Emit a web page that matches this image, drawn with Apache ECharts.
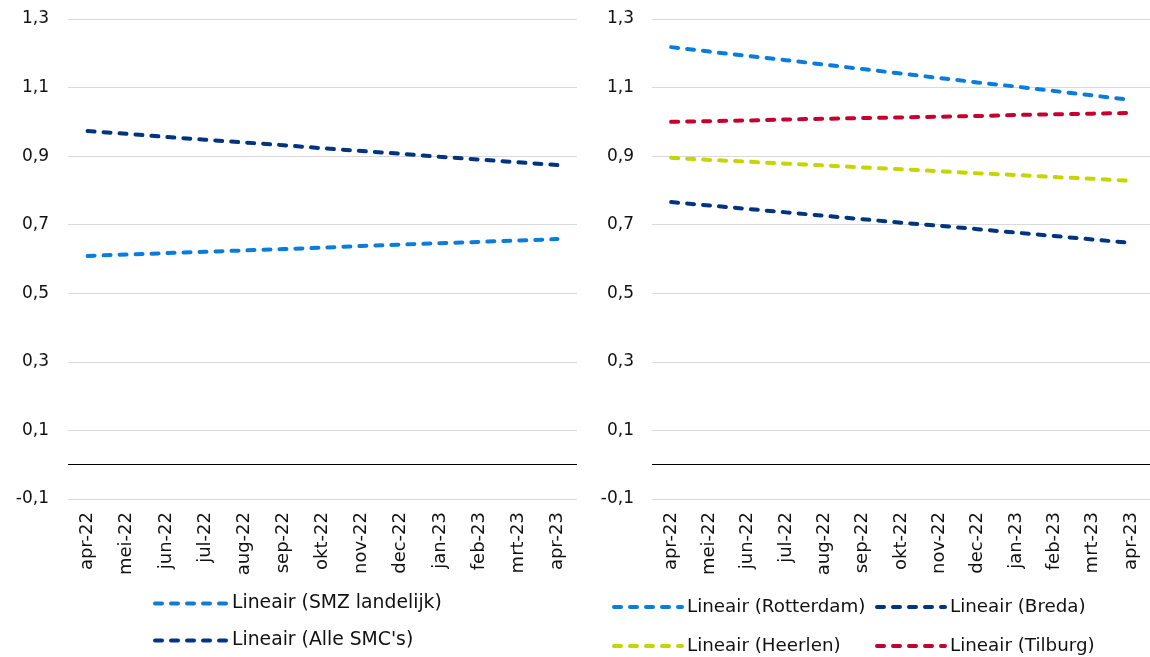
<!DOCTYPE html>
<html>
<head>
<meta charset="utf-8">
<script src="https://cdn.jsdelivr.net/npm/echarts@6/dist/echarts.min.js"></script>
<style>html,body{margin:0;padding:0;background:#fff}#c{width:1150px;height:657px}</style>
</head>
<body>
<div id="c"></div>
<script>
var categories = ['apr-22','mei-22','jun-22','jul-22','aug-22','sep-22','okt-22','nov-22','dec-22','jan-23','feb-23','mrt-23','apr-23'];
var yTicks = [-0.1, 0.1, 0.3, 0.5, 0.7, 0.9, 1.1, 1.3];
var smzLandelijk = [0.609,0.613,0.617,0.621,0.625,0.629,0.633,0.638,0.642,0.646,0.650,0.654,0.658];
var alleSMCs = [0.973,0.965,0.956,0.948,0.940,0.932,0.923,0.915,0.907,0.898,0.890,0.882,0.874];
var rotterdam = [1.218,1.205,1.192,1.180,1.167,1.154,1.141,1.128,1.115,1.103,1.090,1.077,1.064];
var breda = [0.766,0.756,0.746,0.736,0.726,0.716,0.706,0.697,0.687,0.677,0.667,0.657,0.647];
var heerlen = [0.895,0.889,0.884,0.878,0.873,0.867,0.862,0.856,0.850,0.845,0.839,0.834,0.828];
var tilburg = [1.000,1.002,1.004,1.007,1.009,1.011,1.013,1.015,1.017,1.020,1.022,1.024,1.026];

var FONT = '"DejaVu Sans", Verdana, sans-serif';
var TXT = '#111';
var C = {light:'#0A7DDA', navy:'#00347F', lime:'#C6D500', red:'#C4002F'};

function xAx(gi){
  return {type:'category', gridIndex:gi, data:categories, boundaryGap:true,
    axisLine:{show:false, onZero:false}, axisTick:{show:false},
    axisLabel:{rotate:90, margin:13, color:TXT, fontFamily:FONT, fontSize:18, interval:0}};
}
function yAx(gi, margin){
  return {type:'value', gridIndex:gi, min:yTicks[0], max:yTicks[yTicks.length-1], interval:0.2,
    axisLine:{show:false}, axisTick:{show:false},
    splitLine:{lineStyle:{color:'#D9D9D9', width:1}},
    axisLabel:{margin:margin, color:TXT, fontFamily:FONT, fontSize:17, padding:[3,0,0,0],
      formatter:function(v){return v.toFixed(1).replace('.',',');}}};
}
function ser(name, data, color, gi, zero){
  var s = {name:name, type:'line', xAxisIndex:gi, yAxisIndex:gi, data:data, symbol:'none', smooth:false,
    lineStyle:{color:color, width:4, type:[7,9], cap:'round'}, itemStyle:{color:color}, z:3};
  if (zero) s.markLine = {silent:true, symbol:'none', label:{show:false},
    lineStyle:{color:'#000', width:1, type:'solid'}, data:[{yAxis:0}], z:1};
  return s;
}
var legendCommon = {orient:'vertical', itemWidth:72, itemHeight:12, itemGap:18, padding:0,
  itemStyle:{opacity:0},
  lineStyle:{width:4, type:[7,9], cap:'round'},
  textStyle:{color:TXT, fontFamily:FONT, fontSize:18.8}};
var legendRight = {itemWidth:68, itemGap:21, textStyle:{color:TXT, fontFamily:FONT, fontSize:18.3}};

var chart = echarts.init(document.getElementById('c'), null, {renderer:'canvas'});
chart.setOption({
  backgroundColor:'#fff',
  animation:false,
  grid:[
    {left:68, right:573, top:19, bottom:158},
    {left:652, right:-13, top:19, bottom:158}
  ],
  xAxis:[xAx(0), xAx(1)],
  yAxis:[yAx(0,19), yAx(1,18)],
  legend:[
    Object.assign({}, legendCommon, {left:153, top:594, data:['Lineair (SMZ landelijk)','Lineair (Alle SMC\'s)']}),
    Object.assign({}, legendCommon, legendRight, {left:612, top:598, data:['Lineair (Rotterdam)','Lineair (Heerlen)']}),
    Object.assign({}, legendCommon, legendRight, {left:875, top:598, data:['Lineair (Breda)','Lineair (Tilburg)']})
  ],
  series:[
    ser('Lineair (SMZ landelijk)', smzLandelijk, C.light, 0, true),
    ser('Lineair (Alle SMC\'s)', alleSMCs, C.navy, 0, false),
    ser('Lineair (Rotterdam)', rotterdam, C.light, 1, true),
    ser('Lineair (Breda)', breda, C.navy, 1, false),
    ser('Lineair (Heerlen)', heerlen, C.lime, 1, false),
    ser('Lineair (Tilburg)', tilburg, C.red, 1, false)
  ]
});
</script>
</body>
</html>
